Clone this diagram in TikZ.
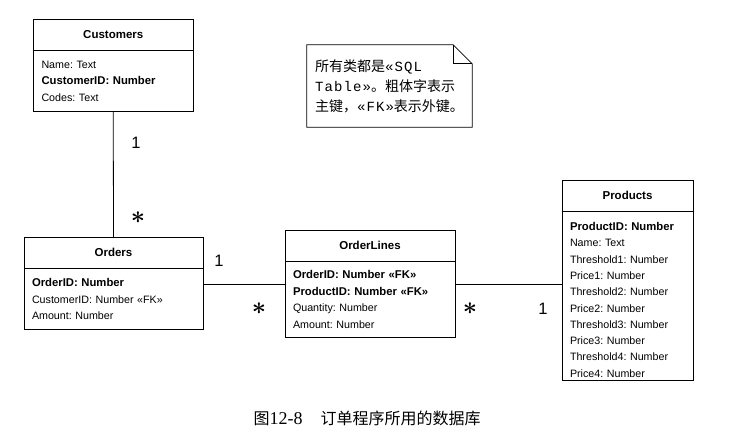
\documentclass[tikz,border=0pt]{standalone}
\usepackage{fontspec}
\setmainfont{Liberation Sans}
\newfontfamily\cjk{Noto Sans CJK SC}
\newfontfamily\notemono[LetterSpace=8]{Liberation Mono}
\newfontfamily\capserif{Liberation Serif}
\usetikzlibrary{positioning}
\frenchspacing
\newcommand{\keyfield}[1]{{\fontsize{11.3}{16.4}\selectfont\bfseries #1}}
\tikzset{
  tablehead/.style={
    draw,line width=0.8pt,outer sep=0pt,anchor=north west,
    minimum width=#1,minimum height=31.5pt,
    font=\fontsize{11.5}{14}\selectfont\bfseries,
  },
  tablebody/.style={
    draw,line width=0.8pt,outer sep=0pt,inner xsep=8pt,inner ysep=8pt,
    text width=#1,align=left,font=\fontsize{10.7}{16.4}\selectfont,
  },
  onelabel/.style={font=\fontsize{16.5}{16}\selectfont,inner sep=0pt},
  manylabel/.style={font=\fontsize{24}{24}\selectfont\boldmath,inner sep=0pt},
}
\begin{document}
\begin{tikzpicture}[x=1pt,y=-1pt]
        \useasboundingbox (0,0) rectangle (741,439);

        \node[tablehead=159.5pt] (cust) at (33.5,19) {Customers};
        \node[tablebody=143.5pt, below=0pt of cust, minimum height=61pt] (cust-body) {
            Name: Text\\
            \keyfield{CustomerID: Number}\\
            Codes: Text
        };

        \node[tablehead=179pt] (ord) at (24,237) {Orders};
        \node[tablebody=163pt, below=0pt of ord, minimum height=61pt] (ord-body) {
            \keyfield{OrderID: Number}\\
            CustomerID: Number «FK»\\
            Amount: Number
        };

        \node[tablehead=170pt] (ol) at (285,230) {OrderLines};
        \node[tablebody=154pt, below=0pt of ol, minimum height=76pt] (ol-body) {
            \keyfield{OrderID: Number «FK»}\\
            \keyfield{ProductID: Number «FK»}\\
            Quantity: Number\\
            Amount: Number
        };

        \node[tablehead=131pt] (prod) at (562,180) {Products};
        \node[tablebody=115pt, below=0pt of prod, inner ysep=3pt,
              font=\fontsize{10.7}{16.3}\selectfont] (prod-body) {
            \rule{0pt}{16pt}\keyfield{ProductID: Number}\\
            Name: Text\\
            Threshold1: Number\\
            Price1: Number\\
            Threshold2: Number\\
            Price2: Number\\
            Threshold3: Number\\
            Price3: Number\\
            Threshold4: Number\\
            Price4: Number
        };

        % links between the tables
        \draw[line width=0.8pt] (cust-body.south) -- (ord.north);
        \coordinate (link) at ([yshift=-16pt]ord-body.north east);
        \draw[line width=0.8pt] (link) -- (link -| ol-body.west);
        \draw[line width=0.8pt] (link -| ol-body.east) -- (link -| prod-body.west);

        \node[onelabel] (cust-one) at (136,143) {1};
        \node[manylabel] (ord-many) at (138,218) {$\ast$};
        \node[onelabel] (ord-one) at (219,261) {1};
        \node[manylabel] (ol-many-left) at (259,309) {$\ast$};
        \node[manylabel] (ol-many-right) at (470,309) {$\ast$};
        \node[onelabel] (prod-one) at (543,309) {1};

        % note
        \node[minimum width=165pt, minimum height=82pt, inner xsep=8pt, text width=149pt,
              align=left, font=\fontsize{14}{20}\selectfont] (note) at (389.5,86) {
            \cjk 所有类都是{\notemono«SQL}\\
            {\notemono Table»}。粗体字表示\\
            \cjk 主键，{\notemono«FK»}表示外键。
        };
        \draw[line width=0.8pt] (note.north west) -- ([xshift=-19pt]note.north east)
            -- ([yshift=-19pt]note.north east) -- (note.south east) -- (note.south west) -- cycle;
        \draw[line width=0.8pt] ([xshift=-19pt]note.north east) -- ([xshift=-19pt,yshift=-19pt]note.north east)
            -- ([yshift=-19pt]note.north east);

        \node[font=\fontsize{16}{16}\selectfont] (caption) at (367,418) {
            \cjk 图{\capserif\fontsize{18}{18}\selectfont 12-8}\hspace{18pt}订单程序所用的数据库
        };
    \end{tikzpicture}
\end{document}
